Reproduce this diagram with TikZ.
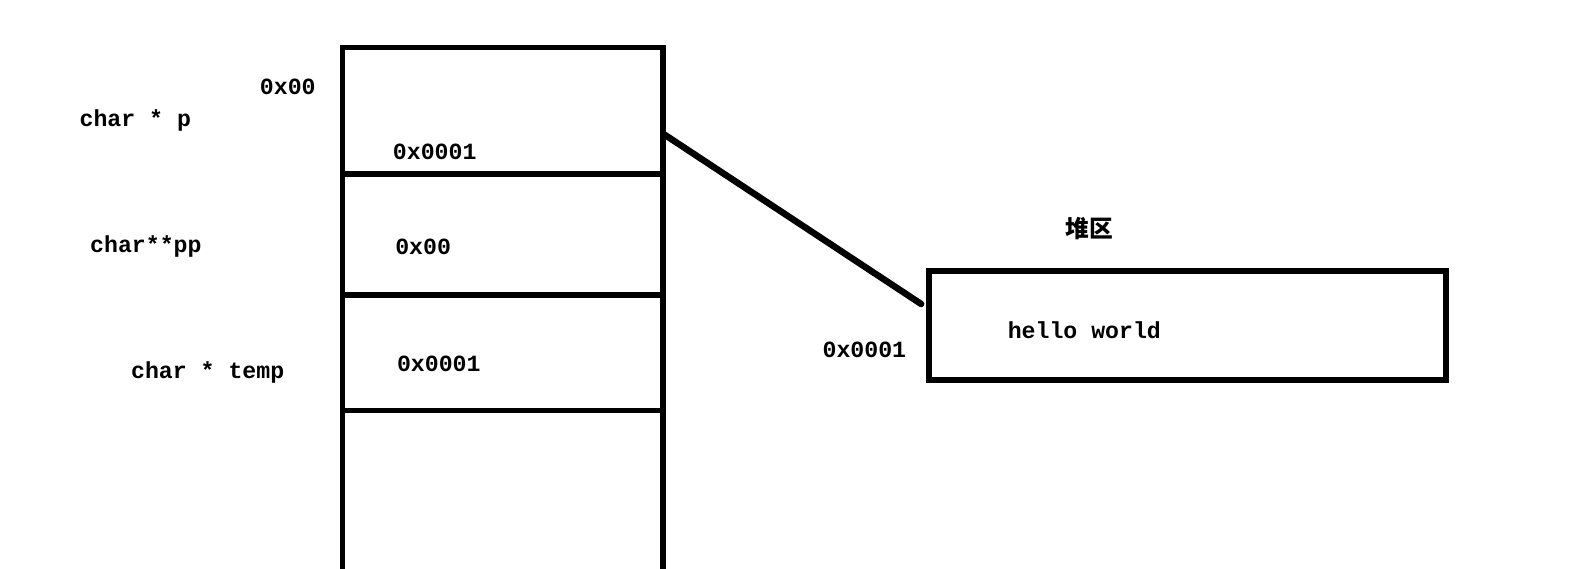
\documentclass[tikz,border=0pt]{standalone}
\usepackage{fontspec}
\newfontfamily\codefont{Liberation Mono}
\newfontfamily\cjkfont{Noto Sans CJK SC}
\usetikzlibrary{positioning}

\begin{document}
\begin{tikzpicture}[x=0.02cm, y=-0.02cm,
  every node/.style={outer sep=0pt, inner sep=0pt},
  cell/.style={draw, line width=3.3pt, minimum width={320.3*0.02cm}},
  code/.style={font=\codefont\bfseries\fontsize{13.2}{15}\selectfont},
  hanzi/.style={font=\cjkfont\bfseries\fontsize{13.5}{15}\selectfont}]
\useasboundingbox (0,0) rectangle (1589,568);
\clip (0,0) rectangle (1589,568);

% stack cells
\node[cell, minimum height={126.7*0.02cm}] (cella) at (502.65,110.95) {};
\node[cell, minimum height={120.6*0.02cm}] (cellb) at (502.65,234.6) {};
\node[cell, minimum height={115.5*0.02cm}] (cellc) at (502.65,352.65) {};
\node[cell, minimum height={229.6*0.02cm}] (celld) at (502.65,525.2) {};

% heap block
\node[draw, line width=3.5pt, minimum width={516.8*0.02cm}, minimum height={109.4*0.02cm}] (heap) at (1187.7,325.3) {};

% labels
\node[code] (addra) at (287.8,87.2) {0x00};
\node[code] (namep) at (135.3,120.6) {char * p};
\node[code] (vala) at (434.7,152) {0x0001};
\node[code] (namepp) at (145.9,246.3) {char**pp};
\node[code] (valb) at (423.1,247.3) {0x00};
\node[code] (nametemp) at (207.7,372.9) {char * temp};
\node[code] (valc) at (438.8,363.8) {0x0001};
\node[hanzi] (heaptitle) at (1089.4,229) {堆区};
\node[code] (hello) at (1084.3,330.4) {hello world};
\node[code] (heapaddr) at (864.4,349.6) {0x0001};

% pointer
\coordinate (pfrom) at (664.8,134.8);
\coordinate (pto) at (921.2,304);
\draw[line width=3.7pt, line cap=round] (pfrom) -- (pto);
\end{tikzpicture}
\end{document}
